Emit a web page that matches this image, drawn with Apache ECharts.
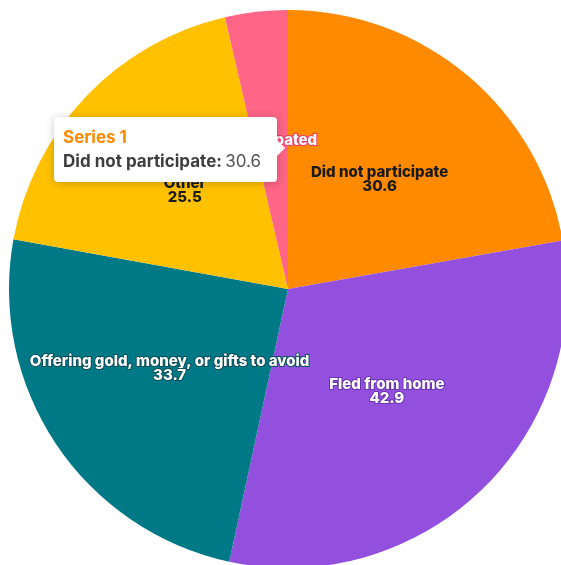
<!DOCTYPE html>
<html>
<head>
<meta charset="utf-8">
<script src="https://cdn.jsdelivr.net/npm/echarts@6/dist/echarts.min.js"></script>
<style>
html,body{margin:0;padding:0;background:#fff;}
#chart{width:561px;height:565px;}
</style>
</head>
<body>
<div id="chart"></div>
<script>
const seriesName = 'Series 1';
const categories = ['Did not participate', 'Fled from home', 'Offering gold, money, or gifts to avoid', 'Other', 'Participated'];
const values = [30.6, 42.9, 33.7, 25.5, 5.0];
const colors = ['#FF8A00', '#9350DF', '#007987', '#FFC100', '#FE6586'];
const labelColors = ['#1a1a1a', '#ffffff', '#ffffff', '#1a1a1a', '#ffffff'];
const labelBorders = ['transparent', '#6a35b0', '#0b4f58', 'transparent', '#e8426a'];
const tooltipIndex = 0;

const chart = echarts.init(document.getElementById('chart'), null, {renderer: 'canvas'});
const font = 'Inter, "Noto Sans", sans-serif';

const data = categories.map((c, i) => ({
  name: c,
  value: values[i],
  itemStyle: {color: colors[i]},
  label: {
    color: labelColors[i],
    textBorderColor: labelBorders[i],
    textBorderWidth: labelBorders[i] === 'transparent' ? 0 : 2
  }
}));

const tipX = 54, tipY = 117, tipW = 223, tipH = 65;

chart.setOption({
  backgroundColor: '#ffffff',
  animation: false,
  series: [{
    type: 'pie',
    name: seriesName,
    center: [288, 289],
    radius: [0, 279],
    startAngle: 90,
    clockwise: true,
    avoidLabelOverlap: false,
    z: 2,
    label: {
      show: true,
      position: 'inside',
      formatter: '{b}\n{c}',
      fontFamily: font,
      fontWeight: 800,
      fontSize: 15,
      lineHeight: 14
    },
    labelLine: {show: false},
    itemStyle: {borderWidth: 0},
    data: data
  }],
  graphic: [
    {
      type: 'rect',
      z: 100, zlevel: 1,
      shape: {x: tipX, y: tipY, width: tipW, height: tipH, r: 4},
      style: {fill: '#ffffff', shadowBlur: 8, shadowColor: 'rgba(0,0,0,0.22)', shadowOffsetX: 0, shadowOffsetY: 1}
    },
    {
      type: 'polygon',
      z: 101, zlevel: 1,
      shape: {points: [[tipX + tipW - 1, tipY + 22], [tipX + tipW + 8, tipY + 31], [tipX + tipW - 1, tipY + 40]]},
      style: {fill: '#ffffff'}
    },
    {
      type: 'text',
      z: 102, zlevel: 1,
      x: tipX + 9, y: tipY + 12,
      style: {text: seriesName, fill: colors[tooltipIndex], font: 'bold 17px ' + font}
    },
    {
      type: 'text',
      z: 102, zlevel: 1,
      x: tipX + 9, y: tipY + 36,
      style: {
        text: '{b|' + categories[tooltipIndex] + ':} {v|' + values[tooltipIndex].toFixed(1) + '}',
        rich: {
          b: {fontFamily: font, fontWeight: 'bold', fontSize: 17, fill: '#3d3d3d'},
          v: {fontFamily: font, fontWeight: 'normal', fontSize: 17, fill: '#555555'}
        }
      }
    }
  ]
});
</script>
</body>
</html>
